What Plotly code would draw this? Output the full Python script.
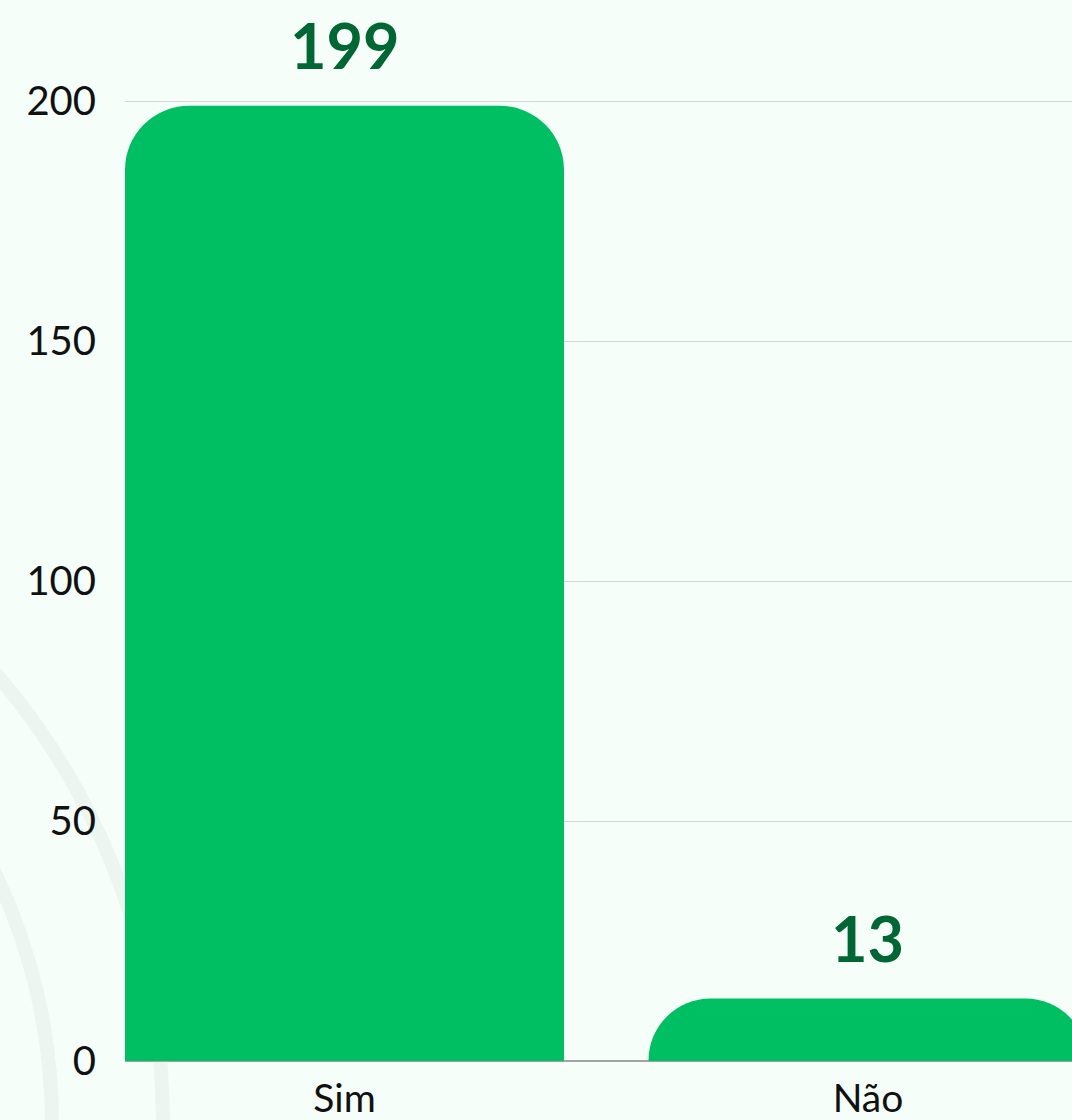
import plotly.graph_objects as go

# Survey answers and counts
categories = ["Sim", "Não"]
counts = [199, 13]
y_ticks = [0, 50, 100, 150, 200]

BG = "#f5fef9"
BAR = "#00bf63"
LABEL = "#006633"

W, H = 1072, 1120
ML, MR, MT, MB = 125, 0, 5, 57
plot_w = W - ML - MR
plot_h = H - MT - MB

fig = go.Figure(
    go.Bar(
        x=categories,
        y=counts,
        marker=dict(color=BAR, cornerradius=64, line=dict(width=0)),
        width=0.8386,
        hoverinfo="skip",
    )
)

# Value labels above each bar
for cat, val in zip(categories, counts):
    fig.add_annotation(
        x=cat, y=val, text=f"<b>{val}</b>", showarrow=False,
        yanchor="bottom", yshift=22,
        font=dict(family="Lato", size=63, color=LABEL),
    )


def px_to_paper(px, py):
    return (px - ML) / plot_w, (H - MB - py) / plot_h


# Decorative concentric rings in the lower-left corner
cx, cy = -529, 1126
for r in (692, 581):
    x0, y0 = px_to_paper(cx - r, cy + r)
    x1, y1 = px_to_paper(cx + r, cy - r)
    fig.add_shape(
        type="circle", xref="paper", yref="paper",
        x0=x0, y0=y0, x1=x1, y1=y1,
        line=dict(color="#edf5f0", width=14), layer="below",
    )

fig.update_layout(
    width=W, height=H,
    margin=dict(l=ML, r=MR, t=MT, b=MB),
    paper_bgcolor=BG, plot_bgcolor="rgba(0,0,0,0)",
    showlegend=False,
    font=dict(family="Lato", color="#111111"),
    bargap=0.16,
)
fig.update_xaxes(
    range=[-0.4193, 1.3897],
    showgrid=False, showline=False, ticks="",
    tickfont=dict(size=39, family="Lato", color="#111111"),
    ticklabelstandoff=11,
)
fig.update_yaxes(
    range=[0, 220],
    tickvals=y_ticks,
    showgrid=True, gridcolor="#d4d8d6", gridwidth=1,
    zeroline=True, zerolinecolor="#a0a4a2", zerolinewidth=2,
    showline=False, ticks="",
    tickfont=dict(size=40, family="Lato", color="#111111"),
    ticklabelstandoff=28,
)

fig.write_html("out.html")
